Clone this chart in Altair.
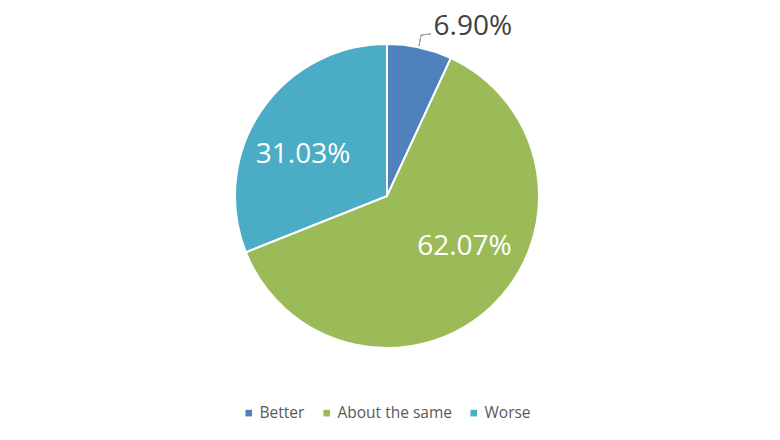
import altair as alt
import pandas as pd

categories = ["Better", "About the same", "Worse"]
values = [6.90, 62.07, 31.03]
labels = ["6.90%", "62.07%", "31.03%"]
colors = ["#4F81BD", "#9BBB59", "#4BACC6"]

df = pd.DataFrame({"category": categories, "value": values, "label": labels,
                   "order": list(range(len(categories)))})

CX, CY, R = 379, 188, 152

base = alt.Chart(df).encode(
    theta=alt.Theta("value:Q", stack=True),
    order=alt.Order("order:Q"),
)

pie = base.mark_arc(outerRadius=R, stroke="white", strokeWidth=2).encode(
    x=alt.value(CX), y=alt.value(CY),
    color=alt.Color("category:N",
                    scale=alt.Scale(domain=categories, range=colors),
                    sort=categories,
                    legend=alt.Legend(orient="none", legendX=233, legendY=397,
                                      direction="horizontal", title=None,
                                      symbolType="square", symbolSize=44,
                                      symbolStrokeWidth=0,
                                      labelFontSize=15.5, labelColor="#595959",
                                      labelFont="Open Sans", columnPadding=14,
                                      labelOffset=3)),
)


def text_full(cat, radius, dx, dy, color, align="center"):
    return base.mark_text(
        radius=radius, dx=dx, dy=dy, font="Open Sans", fontSize=28,
        align=align, baseline="middle"
    ).encode(
        x=alt.value(CX), y=alt.value(CY),
        text=alt.condition(alt.datum.category == cat, "label:N", alt.value("")),
        color=alt.value(color),
    )

t1 = text_full("Better", 170, 10, -3, "#404040", "left")
t2 = text_full("About the same", 85, 19, -11, "white")
t3 = text_full("Worse", 93, -7, 11, "white")

leader1 = alt.Chart(df).mark_rule(color="#A6A6A6", strokeWidth=1).encode(
    x=alt.value(411), y=alt.value(38), x2=alt.value(413), y2=alt.value(27))
leader2 = alt.Chart(df).mark_rule(color="#A6A6A6", strokeWidth=1).encode(
    x=alt.value(413), y=alt.value(27), x2=alt.value(423), y2=alt.value(26))

chart = alt.layer(pie, t1, t2, t3, leader1, leader2).properties(
    width=764, height=424, padding=0,
    autosize=alt.AutoSizeParams(type="none"),
).configure_view(stroke=None)

chart.save("out.html", embed_options={"renderer": "svg", "actions": False})
